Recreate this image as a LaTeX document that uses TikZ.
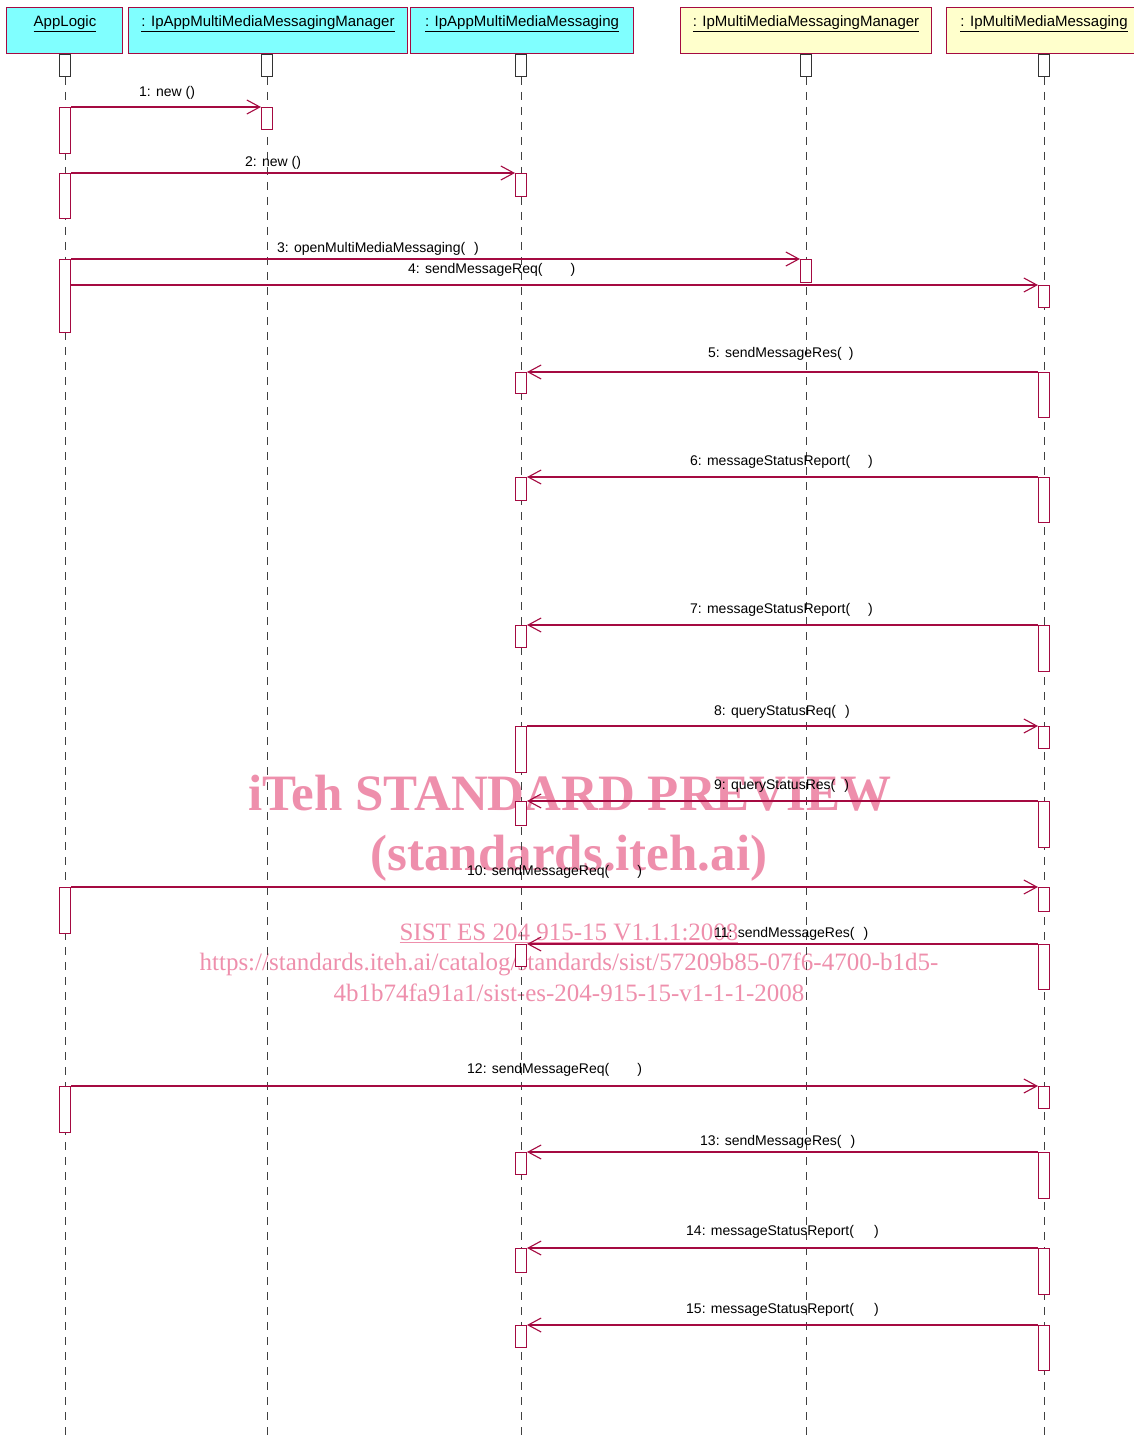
\documentclass[tikz,border=0pt]{standalone}
\usepackage{fontspec}
\setmainfont{Liberation Sans}
\newfontfamily\wmfont{Liberation Serif}
\usetikzlibrary{arrows.meta}
\definecolor{uml}{RGB}{165,10,65}
\definecolor{hcyan}{RGB}{128,255,255}
\definecolor{hyellow}{RGB}{255,255,204}
\definecolor{wm}{RGB}{238,143,172}
\begin{document}
\begin{tikzpicture}[x=1pt,y=-1pt,
  hdr/.style={draw=uml, line width=1pt, anchor=north west, inner sep=0, minimum height=46pt},
  htext/.style={anchor=base, inner sep=0, font=\fontsize{15}{17}\selectfont},
  topbox/.style={draw=black!80, fill=white, line width=1pt, minimum width=11pt, minimum height=22pt, inner sep=0, anchor=north},
  act/.style={draw=uml, fill=white, line width=1pt, minimum width=11pt, inner sep=0, anchor=north},
  life/.style={draw=black!75, line width=1pt, dash pattern=on 8pt off 7pt},
  msg/.style={draw=uml, line width=1.1pt, -{Straight Barb[length=13pt,width=14pt,line width=1.1pt]}},
  lbl/.style={anchor=base west, inner sep=0, font=\fontsize{14}{16}\selectfont},
  wmbig/.style={anchor=base, inner sep=0, text=wm, font=\wmfont\bfseries\fontsize{51}{55}\selectfont},
  wmsmall/.style={anchor=base, inner sep=0, text=wm, font=\wmfont\fontsize{25}{28}\selectfont},
]
\useasboundingbox (0,0) rectangle (1134,1439);

% watermark
\node[wmbig] (w1) at (570,810) {iTeh STANDARD PREVIEW};
\node[wmbig] (w2) at (569,870) {(standards.iteh.ai)};
\node[wmsmall] (w3) at (569,940) {\underline{SIST ES 204 915-15 V1.1.1:2008}};
\node[wmsmall] (w4) at (569,970) {https://standards.iteh.ai/catalog/standards/sist/57209b85-07f6-4700-b1d5-};
\node[wmsmall] (w5) at (569,1001) {4b1b74fa91a1/sist-es-204-915-15-v1-1-1-2008};

% headers
\node[hdr, fill=hcyan, minimum width=116pt] (H1) at (6,7) {};
\node[hdr, fill=hcyan, minimum width=279pt] (H2) at (128,7) {};
\node[hdr, fill=hcyan, minimum width=223pt] (H3) at (410,7) {};
\node[hdr, fill=hyellow, minimum width=251pt] (H4) at (680,7) {};
\node[hdr, fill=hyellow, minimum width=192pt] (H5) at (946,7) {};
\node[htext] (T1) at (65,27) {\underline{AppLogic}};
\node[htext] (T2) at (268,27) {\underline{: IpAppMultiMediaMessagingManager}};
\node[htext] (T3) at (522,27) {\underline{: IpAppMultiMediaMessaging}};
\node[htext] (T4) at (806,27) {\underline{: IpMultiMediaMessagingManager}};
\node[htext] (T5) at (1044,27) {\underline{: IpMultiMediaMessaging}};

% lifeline heads
\node[topbox] (S1) at (65,54) {};
\node[topbox] (S2) at (267,54) {};
\node[topbox] (S3) at (521,54) {};
\node[topbox] (S4) at (806,54) {};
\node[topbox] (S5) at (1044,54) {};
\coordinate (L1) at (65,1439);
\coordinate (L2) at (267,1439);
\coordinate (L3) at (521,1439);
\coordinate (L4) at (806,1439);
\coordinate (L5) at (1044,1439);
\draw[life] (S1.south) -- (L1);
\draw[life] (S2.south) -- (L2);
\draw[life] (S3.south) -- (L3);
\draw[life] (S4.south) -- (L4);
\draw[life] (S5.south) -- (L5);

% activations: AppLogic
\node[act, minimum height=46pt] (A1) at (65,107) {};
\node[act, minimum height=45pt] (A2) at (65,173) {};
\node[act, minimum height=73pt] (A3) at (65,259) {};
\node[act, minimum height=46pt] (A10) at (65,887) {};
\node[act, minimum height=46pt] (A12) at (65,1086) {};
% manager app
\node[act, minimum height=22pt] (M1) at (267,107) {};
% IpAppMultiMediaMessaging
\node[act, minimum height=23pt] (P2) at (521,173) {};
\node[act, minimum height=21pt] (P5) at (521,372) {};
\node[act, minimum height=23pt] (P6) at (521,477) {};
\node[act, minimum height=22pt] (P7) at (521,625) {};
\node[act, minimum height=46pt] (P8) at (521,726) {};
\node[act, minimum height=24pt] (P9) at (521,801) {};
\node[act, minimum height=22pt] (P11) at (521,944) {};
\node[act, minimum height=22pt] (P13) at (521,1152) {};
\node[act, minimum height=24pt] (P14) at (521,1248) {};
\node[act, minimum height=22pt] (P15) at (521,1325) {};
% IpMultiMediaMessagingManager
\node[act, minimum height=23pt] (Q3) at (806,259) {};
% IpMultiMediaMessaging
\node[act, minimum height=22pt] (R4) at (1044,285) {};
\node[act, minimum height=45pt] (R5) at (1044,372) {};
\node[act, minimum height=45pt] (R6) at (1044,477) {};
\node[act, minimum height=46pt] (R7) at (1044,625) {};
\node[act, minimum height=22pt] (R8) at (1044,726) {};
\node[act, minimum height=46pt] (R9) at (1044,801) {};
\node[act, minimum height=24pt] (R10) at (1044,887) {};
\node[act, minimum height=45pt] (R11) at (1044,944) {};
\node[act, minimum height=22pt] (R12) at (1044,1086) {};
\node[act, minimum height=46pt] (R13) at (1044,1152) {};
\node[act, minimum height=46pt] (R14) at (1044,1248) {};
\node[act, minimum height=45pt] (R15) at (1044,1325) {};

% messages
\draw[msg] (A1.north east) -- (M1.north west);
\draw[msg] (A2.north east) -- (P2.north west);
\draw[msg] (A3.north east) -- (Q3.north west);
\draw[msg] (A3.east |- R4.north) -- (R4.north west);
\draw[msg] (R5.north west) -- (P5.north east);
\draw[msg] (R6.north west) -- (P6.north east);
\draw[msg] (R7.north west) -- (P7.north east);
\draw[msg] (P8.north east) -- (R8.north west);
\draw[msg] (R9.north west) -- (P9.north east);
\draw[msg] (A10.north east) -- (R10.north west);
\draw[msg] (R11.north west) -- (P11.north east);
\draw[msg] (A12.north east) -- (R12.north west);
\draw[msg] (R13.north west) -- (P13.north east);
\draw[msg] (R14.north west) -- (P14.north east);
\draw[msg] (R15.north west) -- (P15.north east);

% labels
\node[lbl] (m1) at (139,97) {1: new ()};
\node[lbl] (m2) at (245,167) {2: new ()};
\node[lbl] (m3) at (277,253) {3: openMultiMediaMessaging(\hspace{9pt})};
\node[lbl] (m4) at (408,273) {4: sendMessageReq(\hspace{28pt})};
\node[lbl] (m5) at (708,357) {5: sendMessageRes(\hspace{7pt})};
\node[lbl] (m6) at (690,465) {6: messageStatusReport(\hspace{18pt})};
\node[lbl] (m7) at (690,613) {7: messageStatusReport(\hspace{18pt})};
\node[lbl] (m8) at (714,715) {8: queryStatusReq(\hspace{9pt})};
\node[lbl] (m9) at (714,789) {9: queryStatusRes(\hspace{9pt})};
\node[lbl] (m10) at (467,875) {10: sendMessageReq(\hspace{28pt})};
\node[lbl] (m11) at (714,937) {11: sendMessageRes(\hspace{9pt})};
\node[lbl] (m12) at (467,1073) {12: sendMessageReq(\hspace{28pt})};
\node[lbl] (m13) at (700,1145) {13: sendMessageRes(\hspace{9pt})};
\node[lbl] (m14) at (686,1235) {14: messageStatusReport(\hspace{20pt})};
\node[lbl] (m15) at (686,1313) {15: messageStatusReport(\hspace{20pt})};
\end{tikzpicture}
\end{document}
